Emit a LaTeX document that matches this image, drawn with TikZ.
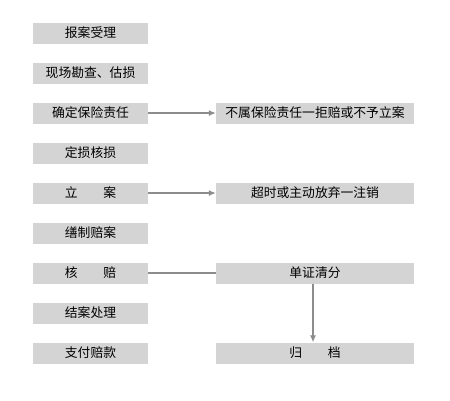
\documentclass[tikz,border=0pt]{standalone}
\usepackage{fontspec}
\setmainfont{Noto Sans CJK SC}
\usetikzlibrary{arrows.meta}
\definecolor{boxgray}{HTML}{D4D4D4}
\definecolor{linegray}{HTML}{8C8C8C}
\tikzset{
  lbox/.style={fill=boxgray, minimum width=115pt, minimum height=21pt, inner sep=0pt, font=\fontsize{12.8}{13}\selectfont},
  rbox/.style={fill=boxgray, minimum width=198pt, minimum height=21pt, inner sep=0pt, font=\fontsize{12.8}{13}\selectfont},
  conn/.style={draw=linegray, line width=1.2pt},
  arr/.style={conn, -{Latex[length=7pt,width=6pt]}}
}
\begin{document}
\begin{tikzpicture}[x=1pt,y=-1pt]
\useasboundingbox (0,0) rectangle (450,400);
\node[lbox] (a1) at (90.5,33) {报案受理};
\node[lbox] (a2) at (90.5,73) {现场勘查、估损};
\node[lbox] (a3) at (90.5,113) {确定保险责任};
\node[lbox] (a4) at (90.5,153) {定损核损};
\node[lbox] (a5) at (90.5,193) {立\hspace{2em}案};
\node[lbox] (a6) at (90.5,233) {缮制赔案};
\node[lbox] (a7) at (90.5,273) {核\hspace{2em}赔};
\node[lbox] (a8) at (90.5,313) {结案处理};
\node[lbox] (a9) at (90.5,353) {支付赔款};
\node[rbox] (b1) at (315,113) {不属保险责任一拒赔或不予立案};
\node[rbox] (b2) at (315,193) {超时或主动放弃一注销};
\node[rbox] (b3) at (315,273) {单证清分};
\node[rbox] (b4) at (315,353) {归\hspace{2em}档};
\draw[arr] (a3.east) -- (b1.west);
\draw[arr] (a5.east) -- (b2.west);
\draw[conn] (a7.east) -- (b3.west);
\draw[arr] (b3.south -| 313,0) -- (b4.north -| 313,0);
\end{tikzpicture}
\end{document}
